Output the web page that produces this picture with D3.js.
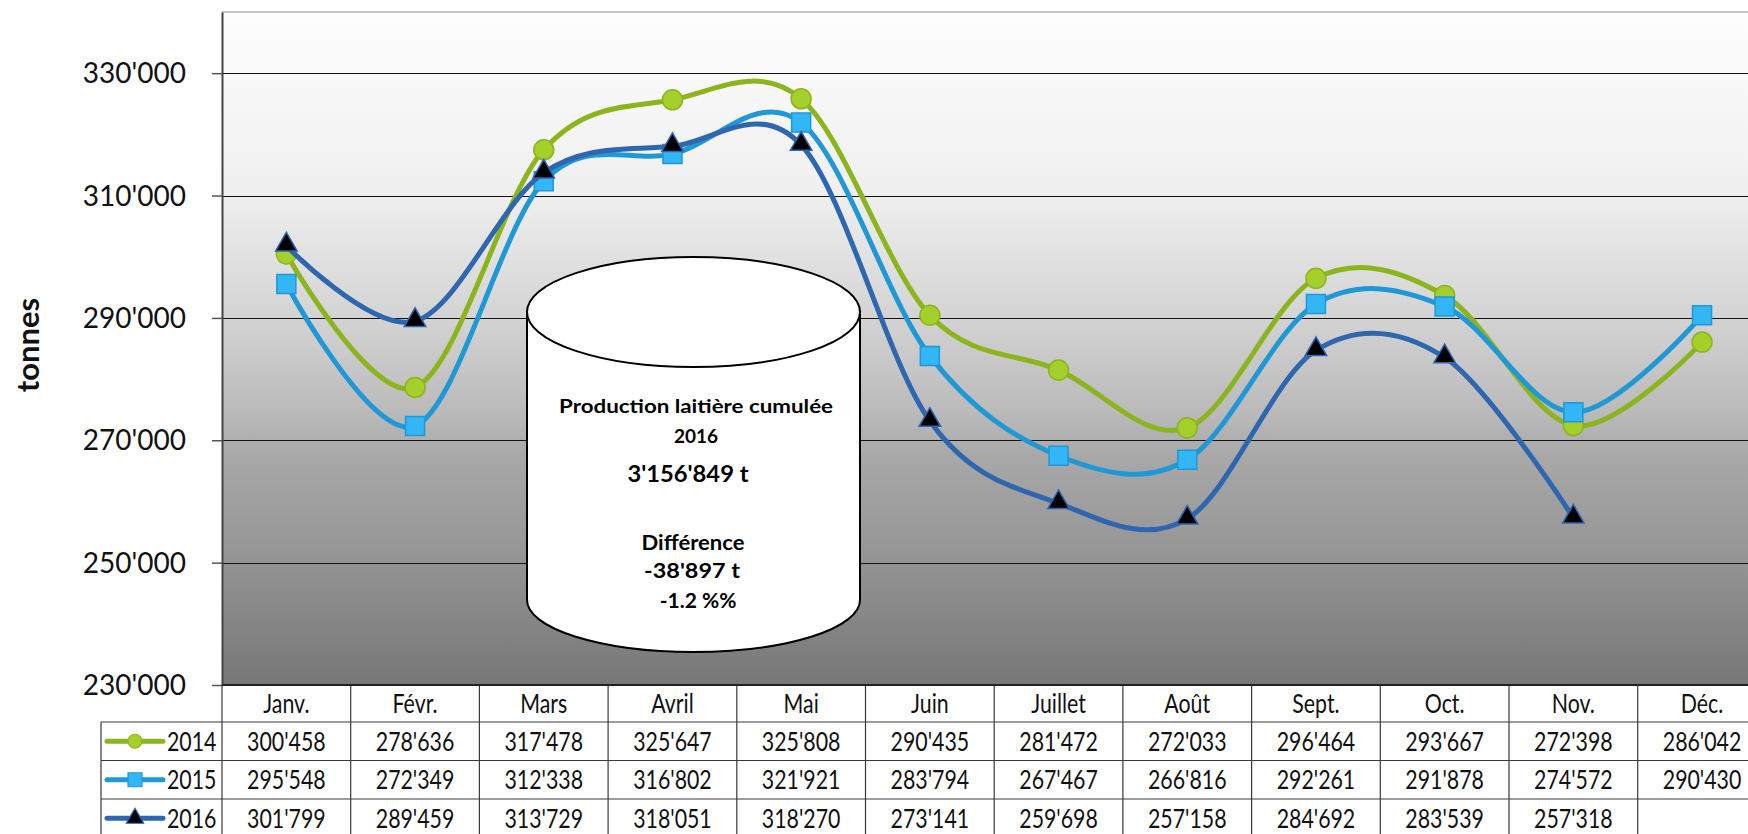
<!DOCTYPE html>
<html><head><meta charset="utf-8">
<script src="https://cdn.jsdelivr.net/npm/d3@7"></script>
<style>html,body{margin:0;padding:0;background:#fff;overflow:hidden}</style>
</head><body>
<svg id="c" width="1748" height="834"></svg>
<script>
const months = ["Janv.","Févr.","Mars","Avril","Mai","Juin","Juillet","Août","Sept.","Oct.","Nov.","Déc."];
const values2014 = [300458,278636,317478,325647,325808,290435,281472,272033,296464,293667,272398,286042];
const values2015 = [295548,272349,312338,316802,321921,283794,267467,266816,292261,291878,274572,290430];
const values2016 = [301799,289459,313729,318051,318270,273141,259698,257158,284692,283539,257318,null];
const seriesNames = ["2014","2015","2016"];
const yTicks = [230000,250000,270000,290000,310000,330000];
const boxLines = ["Production laitière cumulée","2016","3'156'849 t","Différence","-38'897 t","  -1.2 %%"];

(function(){
const W = 1748, H = 834;
const pL = 222, pT = 12, pB = 685, colW = 128.7;
const svg = d3.select("#c");
const loc = d3.formatLocale({decimal:".", thousands:"'", grouping:[3], currency:["",""]});
const fmt = loc.format(",");
const FONT = "Lato, 'Open Sans', sans-serif";
const SX = 0.79; // condensed table text

const x = d3.scaleBand().domain(months).range([pL, pL + colW*months.length]).padding(0);
const y = d3.scaleLinear().domain([230000, 340000]).range([pB, pT]);

const defs = svg.append("defs");
const g = defs.append("linearGradient").attr("id","bg").attr("x1",0).attr("y1",0).attr("x2",0).attr("y2",1);
[[0,"#fefefe"],[0.27,"#efefef"],[0.45,"#d4d4d4"],[0.6,"#b9b9b9"],[0.66,"#a8a8a8"],[0.8,"#969696"],[1,"#777777"]]
  .forEach(([o,c]) => g.append("stop").attr("offset",o).attr("stop-color",c));
svg.append("rect").attr("x",pL).attr("y",pT).attr("width",W-pL).attr("height",pB-pT).attr("fill","url(#bg)");
svg.append("line").attr("x1",pL).attr("x2",W).attr("y1",pT).attr("y2",pT).attr("stroke","#8a8a8a").attr("stroke-width",1.2);

svg.append("g").selectAll("line").data(yTicks.slice(1)).join("line")
  .attr("x1",pL).attr("x2",W).attr("y1",d=>Math.round(y(d))+0.5).attr("y2",d=>Math.round(y(d))+0.5)
  .attr("stroke","#141414").attr("stroke-width",1.2);

const ax = svg.append("g").attr("transform",`translate(${pL},0)`)
  .call(d3.axisLeft(y).tickValues(yTicks).tickSize(10).tickSizeOuter(0).tickPadding(26).tickFormat(fmt));
ax.select(".domain").attr("stroke","#444").attr("stroke-width",2);
ax.selectAll(".tick line").attr("stroke","#555").attr("stroke-width",1.5);
ax.selectAll(".tick text").attr("font-family",FONT).attr("font-size",28).attr("fill","#111").attr("dy","0.34em");

svg.append("text").attr("transform","translate(39,345) rotate(-90)").attr("text-anchor","middle")
  .attr("font-family",FONT).attr("font-weight","bold").attr("font-size",31).attr("fill","#111").text("tonnes");

const series = [
  {name:seriesNames[0], vals:values2014, line:"#8cb41c", fill:"#a5cf2b", stroke:"#8cb41c", shape:"circle"},
  {name:seriesNames[1], vals:values2015, line:"#1f98d5", fill:"#33b6f6", stroke:"#1f98d5", shape:"square"},
  {name:seriesNames[2], vals:values2016, line:"#2e66b0", fill:"#000000", stroke:"#2e66b0", shape:"triangle"}
];
const symType = {circle:d3.symbolCircle, square:d3.symbolSquare, triangle:d3.symbolTriangle};
const symSize = {circle:Math.PI*10*10, square:19*19, triangle:200};

const lineGen = d3.line().defined(d=>d.v!=null).x(d=>x(d.m)+x.bandwidth()/2).y(d=>y(d.v)).curve(d3.curveCardinal.tension(0));
series.forEach(s => {
  const pts = months.map((m,i)=>({m, v:s.vals[i]}));
  svg.append("path").datum(pts).attr("d",lineGen).attr("fill","none").attr("stroke",s.line).attr("stroke-width",5).attr("stroke-linejoin","round");
  svg.append("g").selectAll("path").data(pts.filter(d=>d.v!=null)).join("path")
    .attr("d", d3.symbol().type(symType[s.shape]).size(symSize[s.shape]))
    .attr("transform", d=>`translate(${x(d.m)+x.bandwidth()/2},${y(d.v) + (s.shape==="triangle"?-1:0)})`)
    .attr("fill", s.fill).attr("stroke", s.stroke).attr("stroke-width",1.5);
});

const cx = 693.5, rx = 166.5, cyTop = 312, ryTop = 55, cyBot = 600, ryBot = 52;
const cyl = svg.append("g");
cyl.append("path").attr("d",
  `M${cx-rx},${cyTop} L${cx-rx},${cyBot} A${rx},${ryBot} 0 0 0 ${cx+rx},${cyBot} L${cx+rx},${cyTop} Z`)
  .attr("fill","#fff").attr("stroke","#000").attr("stroke-width",2);
cyl.append("ellipse").attr("cx",cx).attr("cy",cyTop).attr("rx",rx).attr("ry",ryTop)
  .attr("fill","#fff").attr("stroke","#000").attr("stroke-width",2);
const boxPos = [[696,413,19,274],[696,443,19,null],[688,482,22,121],[693,550,20,103],[692,578,21,96],[693,608,21,null]];
boxLines.forEach((t,i) => {
  const [bx,by,fs,tl] = boxPos[i];
  const el = cyl.append("text").attr("x",bx).attr("y",by).attr("text-anchor","middle")
    .attr("font-family",FONT).attr("font-weight","bold").attr("font-size",fs)
    .attr("fill","#000").style("white-space","pre").text(t);
  if (tl) el.attr("textLength",tl).attr("lengthAdjust","spacingAndGlyphs");
});

const tbl = svg.append("g");
const rowTop = [722, 760.5, 799], rowH = 38.5;
const bcol = "#3a3a3a";
tbl.selectAll("line.v").data(d3.range(months.length+1)).join("line")
  .attr("x1",i=>pL+i*colW).attr("x2",i=>pL+i*colW).attr("y1",pB).attr("y2",H)
  .attr("stroke",bcol).attr("stroke-width",1.2);
tbl.append("line").attr("x1",101).attr("x2",101).attr("y1",722).attr("y2",H).attr("stroke",bcol).attr("stroke-width",1.2);
rowTop.forEach(r => tbl.append("line").attr("x1",101).attr("x2",W).attr("y1",r).attr("y2",r).attr("stroke",bcol).attr("stroke-width",1.2));
tbl.append("line").attr("x1",pL).attr("x2",W).attr("y1",pB).attr("y2",pB).attr("stroke","#222").attr("stroke-width",2);

tbl.selectAll("text.h").data(months).join("text")
  .attr("transform",m=>`translate(${x(m)+x.bandwidth()/2},713) scale(${SX},1)`).attr("text-anchor","middle")
  .attr("font-family",FONT).attr("font-size",27).attr("fill","#111").text(m=>m);

series.forEach((s,si) => {
  const cyR = rowTop[si] + rowH/2;
  tbl.append("line").attr("x1",107).attr("x2",163).attr("y1",cyR).attr("y2",cyR)
    .attr("stroke",s.line).attr("stroke-width",5).attr("stroke-linecap","round");
  tbl.append("path").attr("d", d3.symbol().type(symType[s.shape]).size(s.shape==="circle"?Math.PI*49:(s.shape==="square"?196:130)))
    .attr("transform",`translate(135,${cyR})`).attr("fill",s.fill).attr("stroke",s.stroke).attr("stroke-width",1.2);
  tbl.append("text").attr("transform",`translate(167,${cyR+9.5}) scale(${SX},1)`).attr("font-family",FONT).attr("font-size",27).attr("fill","#111").text(s.name);
  tbl.append("g").selectAll("text").data(months.map((m,i)=>({m,v:s.vals[i]})).filter(d=>d.v!=null)).join("text")
    .attr("transform",d=>`translate(${x(d.m)+x.bandwidth()/2},${cyR+9.5}) scale(${SX},1)`).attr("text-anchor","middle")
    .attr("font-family",FONT).attr("font-size",27).attr("fill","#111").text(d=>fmt(d.v));
});
})();
</script>
</body></html>
